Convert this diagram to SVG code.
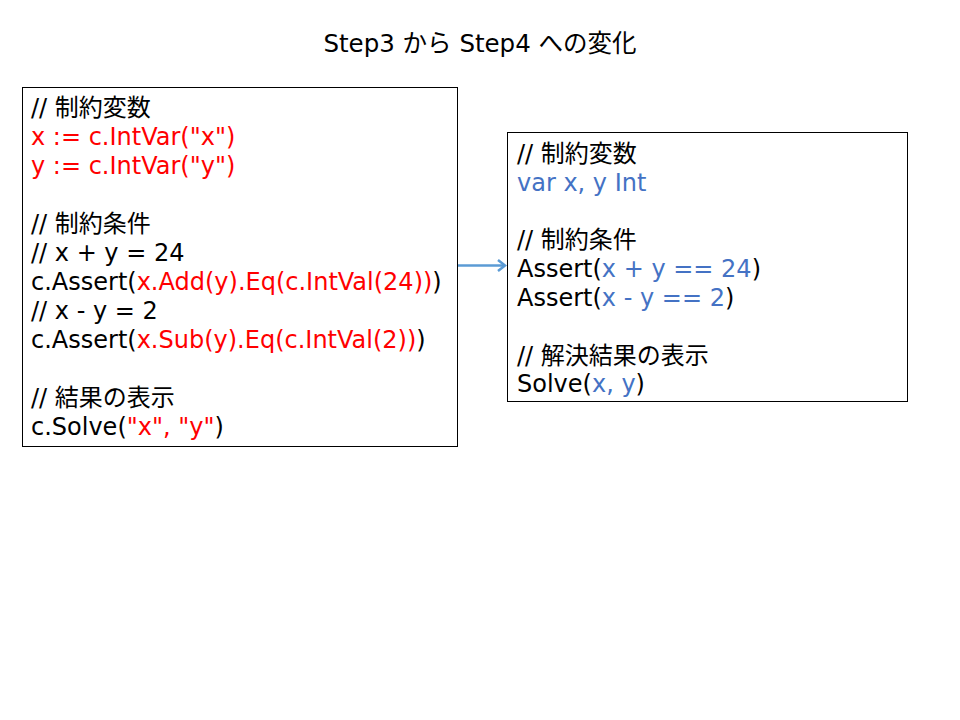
<svg xmlns="http://www.w3.org/2000/svg" width="960" height="720" viewBox="0 0 960 720">
<style>
text { font-family: "DejaVu Sans", "Noto Sans CJK JP", sans-serif; font-size: 24px; fill: #000; }
.r { fill: #FF0000; }
.b { fill: #4472C4; }
.box { fill: #fff; stroke: #000; stroke-width: 1; }
.title { font-size: 24.5px; }
</style>
<defs>
<marker id="ah" markerWidth="12" markerHeight="14" refX="9" refY="7" orient="auto" markerUnits="userSpaceOnUse">
<path d="M2,1.5 L9,7 L2,12.5" fill="none" stroke="#5B9BD5" stroke-width="2.5"/>
</marker>
</defs>
<rect width="960" height="720" fill="#fff"/>
<text class="title" x="480" y="52" text-anchor="middle">Step3 から Step4 への変化</text>
<g id="step3">
<rect class="box" x="22.5" y="87.5" width="435" height="359"/>
<text x="31" y="116">// 制約変数</text>
<text x="31" y="145" class="r">x := c.IntVar("x")</text>
<text x="31" y="174" class="r">y := c.IntVar("y")</text>
<text x="31" y="232">// 制約条件</text>
<text x="31" y="261">// x + y = 24</text>
<text x="31" y="290">c.Assert(<tspan class="r">x.Add(y).Eq(c.IntVal(24))</tspan>)</text>
<text x="31" y="319">// x - y = 2</text>
<text x="31" y="348">c.Assert(<tspan class="r">x.Sub(y).Eq(c.IntVal(2))</tspan>)</text>
<text x="31" y="406">// 結果の表示</text>
<text x="31" y="435">c.Solve(<tspan class="r">"x", "y"</tspan>)</text>
</g>
<g id="step4">
<rect class="box" x="507.5" y="132.5" width="400" height="269"/>
<text x="517" y="162">// 制約変数</text>
<text x="517" y="191" class="b">var x, y Int</text>
<text x="517" y="248">// 制約条件</text>
<text x="517" y="277">Assert(<tspan class="b">x + y == 24</tspan>)</text>
<text x="517" y="306">Assert(<tspan class="b">x - y == 2</tspan>)</text>
<text x="517" y="364">// 解決結果の表示</text>
<text x="517" y="392">Solve(<tspan class="b">x, y</tspan>)</text>
</g>
<g id="connectors">
<line x1="458" y1="265.5" x2="505" y2="265.5" stroke="#5B9BD5" stroke-width="2.5" marker-end="url(#ah)"/>
</g>
</svg>
